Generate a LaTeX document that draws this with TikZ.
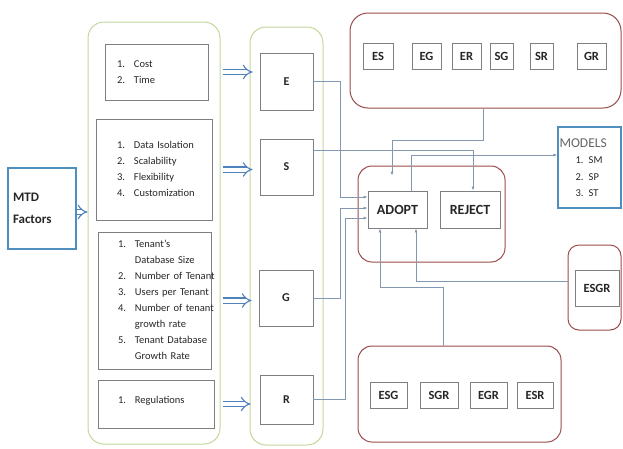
\documentclass[tikz,border=0pt]{standalone}
\usepackage{fontspec}
\setmainfont{Carlito}
\usetikzlibrary{arrows.meta}

\definecolor{greenc}{HTML}{C3D69B}
\definecolor{redc}{HTML}{9B4A4A}
\definecolor{bluec}{HTML}{4F8FBF}
\definecolor{boxc}{HTML}{7F7F7F}
\definecolor{linkc}{HTML}{8497B0}
\definecolor{dblc}{HTML}{4F81BD}

\begin{document}
\begin{tikzpicture}[x=1pt,y=-1pt,
  every node/.style={inner sep=0pt,text=black!85,font=\fontsize{10.5}{16}\selectfont},
  sz/.style 2 args={minimum width=#1pt,minimum height=#2pt},
  grnpanel/.style={draw=greenc,line width=1pt,rounded corners=16pt},
  redpanel/.style={draw=redc,line width=1pt,rounded corners=14pt},
  bluebox/.style={draw=bluec,line width=1.4pt},
  listbox/.style 2 args={draw=boxc,line width=0.8pt,fill=white,align=left,inner xsep=#1pt,text width=#2pt},
  factor/.style={draw=boxc,line width=0.8pt,fill=white,font=\bfseries\fontsize{12}{14}\selectfont},
  code/.style={draw=boxc,line width=0.8pt,fill=white,minimum height=26pt,font=\bfseries\fontsize{12.5}{14}\selectfont},
  link/.style={draw=linkc,line width=0.7pt,-{Latex[length=4pt,width=3pt]}},
  dbl/.style={draw=dblc,line width=1.1pt,double=white,double distance=4pt,-{Implies[scale=1.2]}}]
  \useasboundingbox (0,0) rectangle (623,448);
  \node[grnpanel,sz={132}{422}] (lpanel) at (154,233) {};
  \node[grnpanel,sz={73}{418}] (mpanel) at (286.5,236) {};
  \node[redpanel,sz={271}{95},rounded corners=18pt] (codes2) at (485.5,60.5) {};
  \node[redpanel,sz={147}{96}] (decide) at (431.5,214) {};
  \node[redpanel,sz={53}{85},rounded corners=11pt] (codes4) at (594.5,287.5) {};
  \node[redpanel,sz={203}{96}] (codes3) at (459.5,394) {};
  \node[bluebox,sz={68}{81},align=left,text width=58pt,font=\bfseries\fontsize{13}{22}\selectfont] (mtd) at (42,208.5) {MTD\\Factors\\[-6pt]};
  \node[listbox={12}{79},minimum height=56pt] (cost) at (156.5,72) {\begin{tabular}{@{}l@{\hspace{9pt}}l@{}}1.&Cost\\2.&Time\end{tabular}};
  \node[listbox={21}{74},minimum height=101pt] (data) at (154,169.5) {\begin{tabular}{@{}l@{\hspace{9pt}}l@{}}1.&Data Isolation\\2.&Scalability\\3.&Flexibility\\4.&Customization\end{tabular}};
  \node[listbox={20}{73},minimum height=137pt] (tenant) at (154.5,300.5) {\begin{tabular}{@{}l@{\hspace{9pt}}l@{}}1.&Tenant's\\&Database Size\\2.&Number of Tenant\\3.&Users per Tenant\\4.&Number of tenant\\&growth rate\\5.&Tenant Database\\&Growth Rate\end{tabular}};
  \node[listbox={20}{76},minimum height=48pt] (reg) at (156,404) {\begin{tabular}{@{}l@{\hspace{9pt}}l@{}}1.&Regulations\\[8pt]\end{tabular}};
  \node[factor,sz={53}{57}] (E) at (286.5,81.5) {E};
  \node[factor,sz={53}{56}] (S) at (286.5,167) {S};
  \node[factor,sz={54}{56}] (G) at (286,298) {G};
  \node[factor,sz={53}{49}] (R) at (286.5,399.5) {R};
  \node[code,minimum width=30pt] (es) at (378,56.5) {ES};
  \node[code,minimum width=29pt] (eg) at (426.5,56.5) {EG};
  \node[code,minimum width=29pt] (er) at (466.5,56.5) {ER};
  \node[code,minimum width=23pt] (sg) at (501.5,56.5) {SG};
  \node[code,minimum width=23pt] (sr) at (541.5,56.5) {SR};
  \node[code,minimum width=29pt] (gr) at (591.5,56.5) {GR};
  \node[bluebox,sz={63}{81},align=left,text width=60pt,font=\fontsize{10.5}{16.5}\selectfont] (models) at (589.5,167.5) {{\fontsize{13.5}{16}\selectfont\color{black!60}MODELS}\\\hspace*{16pt}1.\enspace SM\\\hspace*{16pt}2.\enspace SP\\\hspace*{16pt}3.\enspace ST};
  \node[code,sz={59}{37},font=\bfseries\fontsize{14}{16}\selectfont] (adopt) at (397.5,209.5) {ADOPT};
  \node[code,sz={60}{37},font=\bfseries\fontsize{14}{16}\selectfont] (reject) at (470,209.5) {REJECT};
  \node[code,sz={44}{36}] (esgr) at (597,288) {ESGR};
  \node[code,minimum width=37pt] (esg) at (388.5,395) {ESG};
  \node[code,minimum width=38pt] (sgr) at (439,395) {SGR};
  \node[code,minimum width=37pt] (egr) at (488.5,395) {EGR};
  \node[code,minimum width=36pt] (esr) at (535,395) {ESR};
  \draw[link] (E.east) -- ++(27,0) |- ([yshift=12.5pt]adopt.west);
  \draw[link] (G.east) -- ++(27,0) |- ([yshift=1.5pt]adopt.west);
  \draw[link] (R.east) -- ++(32,0) |- ([yshift=-8.5pt]adopt.west);
  \draw[link] ([yshift=17pt]S.east) -| ([xshift=3pt]reject.north);
  \draw[link] ([xshift=-2.5pt]codes2.south) -- ++(0,32) -| ([xshift=-5.5pt,yshift=15pt]adopt.north);
  \draw[link] ([xshift=13.5pt]adopt.north) |- ([yshift=12.5pt]models.west);
  \draw[link] ([xshift=-16.5pt]codes3.north) -- ++(0,-58) -| ([xshift=-17.5pt]adopt.south);
  \draw[link] ([yshift=6.5pt]codes4.west) -| ([xshift=18.5pt]adopt.south);
  \draw[dbl] ([yshift=-3.5pt]mtd.east) -- ([yshift=-3.5pt]mtd.east -| lpanel.west);
  \draw[dbl,shorten <=2pt,shorten >=7pt] (cost.east -| lpanel.east) -- (cost.east -| E.west);
  \draw[dbl,shorten <=2pt,shorten >=7pt] (data.east -| lpanel.east) -- (data.east -| S.west);
  \draw[dbl,shorten <=2pt,shorten >=7pt] (tenant.east -| lpanel.east) -- (tenant.east -| G.west);
  \draw[dbl,shorten <=2pt,shorten >=9pt] (reg.east -| lpanel.east) -- (reg.east -| R.west);
\end{tikzpicture}
\end{document}
